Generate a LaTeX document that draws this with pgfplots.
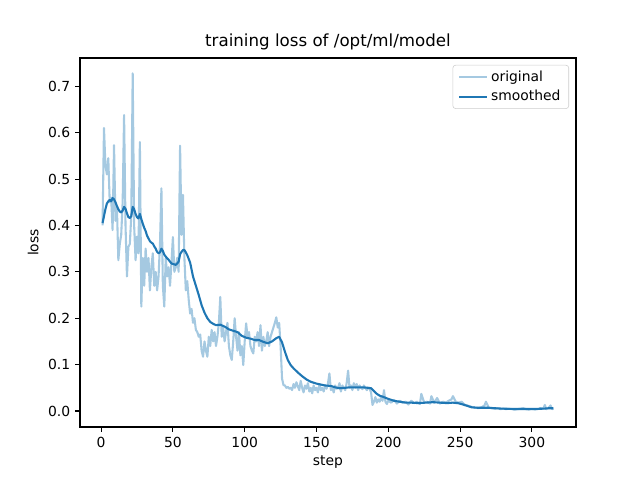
\documentclass[border=0pt]{standalone}
\usepackage{pgfplots}
\pgfplotsset{compat=1.18}
\usepackage{fontspec}
\setmainfont{DejaVu Sans}
\definecolor{tabblue}{HTML}{1F77B4}
\definecolor{lightblue}{HTML}{A5C9E1}
\begin{document}
\begin{tikzpicture}
\path[use as bounding box] (-57.6pt,-38.16pt) rectangle (403.2pt,307.44pt);
\begin{axis}[
  at={(0,0)}, anchor=south west,
  scale only axis, width=357.1pt, height=265.68pt,
  xmin=-14.7, xmax=330.7, ymin=-0.0345, ymax=0.761,
  xtick={0,50,...,300},
  ytick={0,0.1,0.2,0.3,0.4,0.5,0.6,0.7},
  yticklabel style={/pgf/number format/.cd,fixed,fixed zerofill,precision=1},
  /pgf/number format/assume math mode=true,
  tick align=outside, xtick pos=bottom, ytick pos=left,
  major tick length=3.5pt,
  every tick/.style={black, line width=0.8pt},
  axis line style={line width=0.8pt},
  tick label style={font=\fontsize{10}{12}\selectfont},
  label style={font=\fontsize{10}{12}\selectfont},
  xlabel={step}, ylabel={loss},
  xlabel style={yshift=1pt},
  ylabel style={yshift=0pt},
  title={training loss of /opt/ml/model},
  title style={font=\fontsize{12}{14}\selectfont, yshift=-4pt},
  legend style={at={(1,1)}, anchor=north east, xshift=-5pt, yshift=-5pt,
    draw=black!20, rounded corners=2pt, fill=white, fill opacity=0.8, text opacity=1,
    font=\fontsize{10}{12}\selectfont, inner xsep=4pt, inner ysep=2pt, row sep=1pt},
  legend cell align=left,
  legend image code/.code={\draw[#1] (0pt,0pt) -- (20pt,0pt);},
]
\addplot[lightblue, line width=1.5pt, line join=round] coordinates {
(1,0.40)(2,0.61)(3,0.53)(4,0.51)(5,0.545)(6,0.45)(7,0.46)(8,0.39)(9,0.573)(10,0.41)
(11,0.44)(12,0.325)(13,0.36)(14,0.38)(15,0.45)(16,0.638)(17,0.40)(18,0.29)(19,0.354)(20,0.36)
(21,0.42)(22,0.728)(23,0.40)(24,0.325)(25,0.376)(26,0.34)(27,0.58)(28,0.225)(29,0.33)(30,0.27)
(31,0.35)(32,0.30)(33,0.33)(34,0.26)(35,0.31)(36,0.34)(37,0.27)(38,0.30)(39,0.26)(40,0.29)
(41,0.36)(42,0.48)(43,0.27)(44,0.225)(45,0.33)(46,0.29)(47,0.31)(48,0.27)(49,0.32)(50,0.375)
(51,0.30)(52,0.31)(53,0.33)(54,0.30)(55,0.572)(56,0.38)(57,0.466)(58,0.33)(59,0.26)(60,0.28)
(61,0.24)(62,0.21)(63,0.22)(64,0.19)(65,0.20)(66,0.175)(67,0.17)(68,0.16)(69,0.165)(70,0.13)
(71,0.117)(72,0.15)(73,0.13)(74,0.117)(75,0.16)(76,0.14)(77,0.175)(78,0.15)(79,0.17)(80,0.14)
(81,0.16)(82,0.19)(83,0.246)(84,0.16)(85,0.18)(86,0.15)(87,0.17)(88,0.19)(89,0.14)(90,0.12)
(91,0.11)(92,0.15)(93,0.20)(94,0.16)(95,0.13)(96,0.17)(97,0.12)(98,0.14)(99,0.099)(100,0.15)
(101,0.189)(102,0.16)(103,0.17)(104,0.14)(105,0.13)(106,0.124)(107,0.16)(108,0.15)(109,0.17)(110,0.14)
(111,0.185)(112,0.13)(113,0.16)(114,0.14)(115,0.15)(116,0.17)(117,0.14)(118,0.16)(119,0.17)(120,0.18)
(121,0.19)(122,0.202)(123,0.18)(124,0.19)(125,0.14)(126,0.07)(127,0.056)(128,0.055)(129,0.05)(130,0.052)
(131,0.048)(132,0.05)(133,0.045)(134,0.058)(135,0.05)(136,0.062)(137,0.053)(138,0.045)(139,0.065)(140,0.05)
(141,0.04)(142,0.055)(143,0.048)(144,0.06)(145,0.042)(146,0.05)(147,0.038)(148,0.055)(149,0.045)(150,0.05)
(151,0.04)(152,0.058)(153,0.045)(154,0.05)(155,0.042)(156,0.055)(157,0.048)(158,0.06)(159,0.081)(160,0.045)
(161,0.05)(162,0.04)(163,0.055)(164,0.048)(165,0.05)(166,0.06)(167,0.042)(168,0.055)(169,0.05)(170,0.045)
(171,0.06)(172,0.087)(173,0.05)(174,0.055)(175,0.045)(176,0.06)(177,0.05)(178,0.058)(179,0.045)(180,0.055)
(181,0.05)(182,0.047)(183,0.055)(184,0.05)(185,0.045)(186,0.05)(187,0.048)(188,0.04)(189,0.013)(190,0.02)
(191,0.03)(192,0.018)(193,0.025)(194,0.02)(195,0.03)(196,0.022)(197,0.045)(198,0.02)(199,0.015)(200,0.022)
(202,0.018)(204,0.024)(206,0.016)(208,0.022)(210,0.018)(212,0.02)(214,0.014)(216,0.022)(218,0.017)(220,0.02)
(222,0.015)(223,0.037)(225,0.018)(227,0.02)(229,0.016)(230,0.032)(232,0.018)(234,0.028)(236,0.016)(238,0.02)
(240,0.018)(242,0.022)(244,0.025)(245,0.032)(247,0.02)(249,0.018)(251,0.02)(253,0.014)(255,0.012)(257,0.01)
(259,0.008)(261,0.007)(263,0.006)(265,0.008)(267,0.012)(268,0.02)(270,0.007)(272,0.006)(274,0.005)(276,0.006)
(278,0.004)(280,0.005)(282,0.004)(284,0.005)(286,0.004)(288,0.003)(290,0.004)(292,0.005)(294,0.006)(296,0.004)
(298,0.003)(300,0.004)(302,0.003)(304,0.004)(306,0.006)(308,0.005)(309,0.013)(310,0.004)(312,0.008)(313,0.012)(314,0.004)(315,0.005)
};
\addlegendentry{original}
\addplot[tabblue, line width=1.5pt, line join=round] coordinates {
(1,0.405)(2,0.42)(3,0.435)(4,0.447)(5,0.452)(6,0.455)(7,0.452)(8,0.459)(9,0.456)(10,0.45)
(11,0.442)(12,0.435)(13,0.43)(14,0.428)(15,0.432)(16,0.44)(17,0.436)(18,0.426)(19,0.418)(20,0.416)
(21,0.42)(22,0.44)(23,0.435)(24,0.425)(25,0.418)(26,0.415)(27,0.425)(28,0.414)(29,0.404)(30,0.395)
(31,0.388)(32,0.378)(33,0.372)(34,0.366)(35,0.363)(36,0.361)(37,0.355)(38,0.35)(39,0.343)(40,0.34)
(41,0.342)(42,0.35)(43,0.345)(44,0.337)(45,0.333)(46,0.329)(47,0.326)(48,0.322)(49,0.318)(50,0.317)
(51,0.316)(52,0.315)(53,0.318)(54,0.322)(55,0.338)(56,0.343)(57,0.347)(58,0.347)(59,0.342)(60,0.336)
(62,0.32)(64,0.29)(66,0.27)(68,0.25)(70,0.228)(72,0.212)(74,0.2)(76,0.192)(78,0.188)(80,0.185)
(83,0.186)(86,0.182)(89,0.176)(92,0.173)(95,0.17)(98,0.162)(101,0.158)(104,0.156)(107,0.153)(110,0.153)
(113,0.149)(116,0.146)(119,0.15)(122,0.157)(124,0.16)(126,0.148)(128,0.128)(130,0.11)(132,0.099)(134,0.092)
(137,0.083)(140,0.075)(143,0.068)(146,0.063)(150,0.059)(153,0.057)(156,0.055)(160,0.054)(163,0.051)(166,0.049)
(170,0.05)(173,0.051)(177,0.051)(182,0.051)(186,0.05)(188,0.049)(190,0.043)(192,0.037)(194,0.033)(196,0.031)
(200,0.026)(204,0.022)(208,0.02)(212,0.018)(216,0.018)(221,0.017)(226,0.018)(231,0.019)(236,0.018)(241,0.017)
(245,0.018)(249,0.0166)(252,0.014)(255,0.011)(258,0.008)(262,0.007)(266,0.007)(270,0.007)(274,0.006)(280,0.005)
(288,0.0043)(295,0.0043)(302,0.0045)(308,0.005)(312,0.006)(315,0.006)
};
\addlegendentry{smoothed}
\end{axis}
\end{tikzpicture}
\end{document}
